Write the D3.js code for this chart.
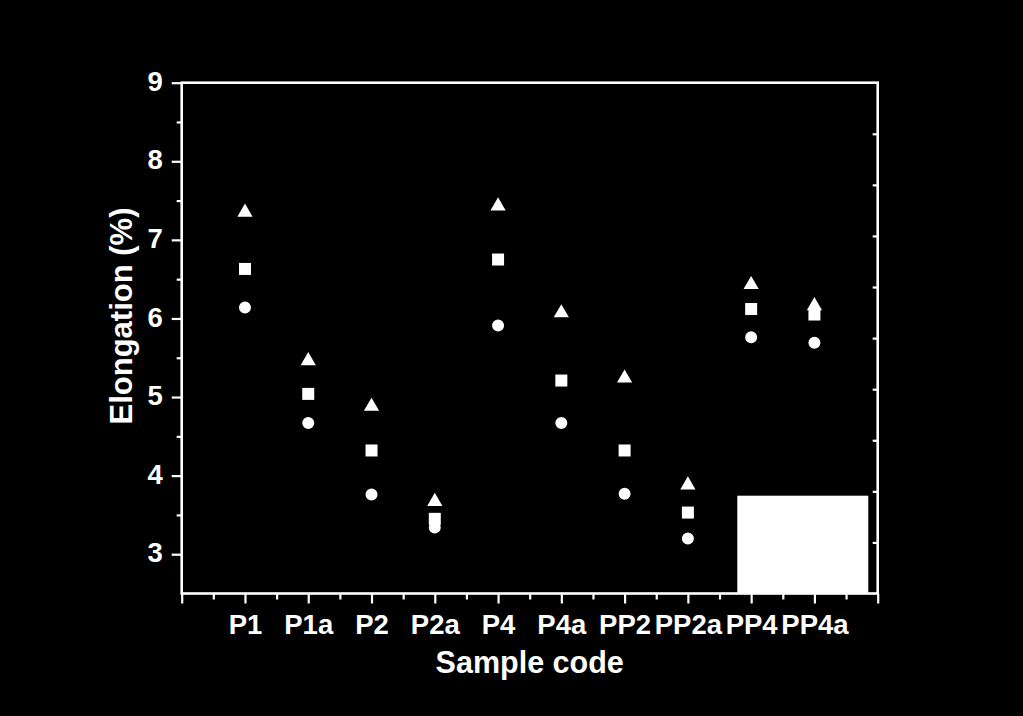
<!DOCTYPE html>
<html>
<head>
<meta charset="utf-8">
<script src="https://cdn.jsdelivr.net/npm/d3@7/dist/d3.min.js"></script>
<style>
  html, body { margin: 0; padding: 0; background: #000; }
  svg { display: block; }
</style>
</head>
<body>
<svg id="chart" width="1023" height="716"></svg>
<script>
const categories = ["P1", "P1a", "P2", "P2a", "P4", "P4a", "PP2", "PP2a", "PP4", "PP4a"];
const triangleValues = [7.35, 5.46, 4.88, 3.67, 7.43, 6.07, 5.24, 3.88, 6.43, 6.16];
const squareValues   = [6.63, 5.04, 4.32, 3.45, 6.75, 5.21, 4.32, 3.53, 6.12, 6.05];
const circleValues   = [6.14, 4.67, 3.76, 3.34, 5.91, 4.67, 3.77, 3.20, 5.76, 5.69];
const yTickLabels = [3, 4, 5, 6, 7, 8, 9];
const yMinorTicks = [3.5, 4.5, 5.5, 6.5, 7.5, 8.5];
const xTitle = "Sample code";
const yTitle = "Elongation (%)";

const svg = d3.select("#chart");
const W = 1023, H = 716;
svg.append("rect").attr("width", W).attr("height", H).attr("fill", "#000");

const pLeft = 181.7, pRight = 877.7, pTop = 82.7, pBottom = 593.5;
const x = d3.scaleLinear().domain([0, categories.length + 1]).range([pLeft, pRight]);
const y = d3.scaleLinear().domain([2.5, 9]).range([pBottom, pTop]);
const yRight = d3.scaleLinear().domain([0, 10]).range([pBottom, pTop]);

const font = "'Liberation Sans', Arial, Helvetica, sans-serif";
const white = "#fff";

function styleAxis(g) {
  g.select(".domain").remove();
  g.selectAll(".tick line").attr("stroke", white).attr("stroke-width", 2.2);
  g.selectAll(".tick text").attr("fill", white).attr("font-family", font).attr("font-weight", "bold");
}

// Left axis major
const gl = svg.append("g").attr("transform", `translate(${pLeft},0)`)
  .call(d3.axisLeft(y).tickValues(yTickLabels).tickSize(10).tickPadding(9).tickFormat(d3.format("d")));
styleAxis(gl);
gl.selectAll(".tick text").attr("font-size", 27.5).attr("dy", "0.28em");
// Left axis minor
const glm = svg.append("g").attr("transform", `translate(${pLeft},0)`)
  .call(d3.axisLeft(y).tickValues(yMinorTicks).tickSize(5).tickFormat(""));
styleAxis(glm);

// Bottom axis major
const xMajor = d3.range(0, categories.length + 2);
const gb = svg.append("g").attr("transform", `translate(0,${pBottom})`)
  .call(d3.axisBottom(x).tickValues(xMajor).tickSize(10).tickPadding(11)
    .tickFormat(d => (d >= 1 && d <= categories.length) ? categories[d - 1] : ""));
styleAxis(gb);
gb.selectAll(".tick text").attr("font-size", 27.5).attr("dy", "0.71em");
// Bottom minor
const gbm = svg.append("g").attr("transform", `translate(0,${pBottom})`)
  .call(d3.axisBottom(x).tickValues(d3.range(0.5, categories.length + 1, 1)).tickSize(6).tickFormat(""));
styleAxis(gbm);

// Right axis (inward ticks)
const gr = svg.append("g").attr("transform", `translate(${pRight},0)`)
  .call(d3.axisLeft(yRight).tickValues(d3.range(1, 10)).tickSize(5).tickFormat(""));
styleAxis(gr);

// Frame
svg.append("rect")
  .attr("x", pLeft).attr("y", pTop)
  .attr("width", pRight - pLeft).attr("height", pBottom - pTop)
  .attr("fill", "none").attr("stroke", white).attr("stroke-width", 2.6);

// Axis titles
svg.append("text")
  .attr("x", (pLeft + pRight) / 2).attr("y", 673)
  .attr("text-anchor", "middle")
  .attr("fill", white).attr("font-family", font).attr("font-weight", "bold").attr("font-size", 30.5)
  .text(xTitle);
svg.append("text")
  .attr("transform", `translate(132,316) rotate(-90)`)
  .attr("text-anchor", "middle")
  .attr("fill", white).attr("font-family", font).attr("font-weight", "bold").attr("font-size", 31)
  .text(yTitle);

// Data markers
const series = [
  { values: triangleValues, type: d3.symbolTriangle, size: 100 },
  { values: squareValues, type: d3.symbolSquare, size: 144 },
  { values: circleValues, type: d3.symbolCircle, size: 113 }
];
series.forEach(s => {
  svg.append("g").selectAll("path")
    .data(s.values)
    .join("path")
    .attr("transform", (d, i) => `translate(${x(i + 1)},${y(d)})`)
    .attr("d", d3.symbol().type(s.type).size(s.size))
    .attr("fill", white);
});

// White box (covering area in lower right of plot)
svg.append("rect")
  .attr("x", 737.3).attr("y", 495.7)
  .attr("width", 868.3 - 737.3).attr("height", pBottom - 495.7)
  .attr("fill", white);
</script>
</body>
</html>
